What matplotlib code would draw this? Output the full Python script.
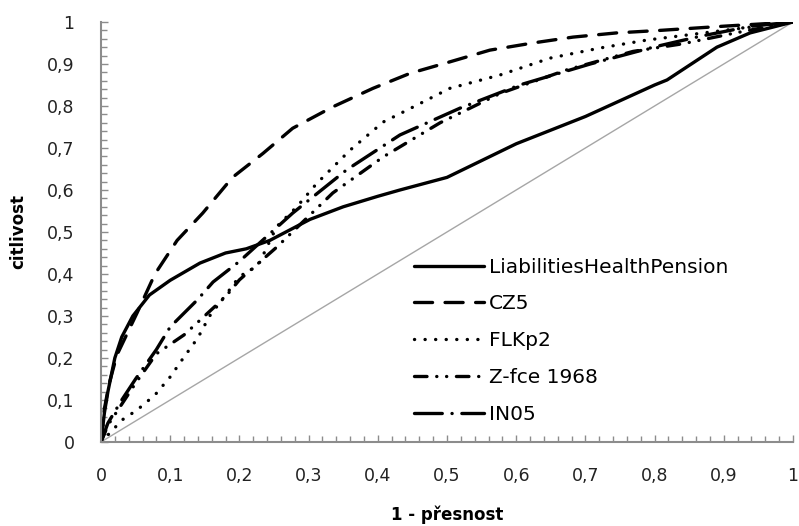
import numpy as np
import matplotlib
matplotlib.use("Agg")
import matplotlib.pyplot as plt
from matplotlib.ticker import FuncFormatter, MultipleLocator

plt.rcParams['font.family'] = ['DejaVu Sans']
plt.rcParams['lines.scale_dashes'] = False

# ROC curves (x = 1 - presnost, y = citlivost)
lhp_x = [0, 0.005, 0.01, 0.02, 0.03, 0.046, 0.07, 0.1, 0.143, 0.18, 0.21, 0.244, 0.302, 0.35, 0.4, 0.432,
         0.5, 0.6, 0.7, 0.72, 0.8, 0.818, 0.89, 0.938, 1.0]
lhp_y = [0, 0.07, 0.12, 0.2, 0.25, 0.3, 0.35, 0.385, 0.426, 0.45, 0.46, 0.48, 0.53, 0.56, 0.585, 0.6,
         0.63, 0.71, 0.775, 0.79, 0.85, 0.862, 0.94, 0.974, 1.0]

cz5_x = [0, 0.005, 0.012, 0.023, 0.052, 0.078, 0.11, 0.147, 0.19, 0.234, 0.277, 0.335, 0.393, 0.447,
         0.504, 0.562, 0.624, 0.682, 0.745, 0.808, 0.9, 1.0]
cz5_y = [0, 0.08, 0.14, 0.207, 0.307, 0.4, 0.48, 0.545, 0.63, 0.687, 0.747, 0.798, 0.842, 0.878,
         0.905, 0.933, 0.95, 0.964, 0.974, 0.98, 0.99, 1.0]

flk_x = [0, 0.015, 0.03, 0.052, 0.078, 0.1, 0.119, 0.14, 0.157, 0.182, 0.2, 0.227, 0.254, 0.283, 0.312,
         0.36, 0.408, 0.442, 0.504, 0.577, 0.649, 0.721, 0.789, 0.9, 1.0]
flk_y = [0, 0.025, 0.052, 0.076, 0.112, 0.155, 0.2, 0.248, 0.3, 0.354, 0.394, 0.42, 0.513, 0.56, 0.616,
         0.695, 0.762, 0.79, 0.842, 0.874, 0.914, 0.938, 0.957, 0.98, 1.0]

zfce_x = [0, 0.01, 0.03, 0.05, 0.08, 0.12, 0.18, 0.2, 0.254, 0.335, 0.408, 0.49, 0.577, 0.673, 0.769,
          0.84, 0.92, 1.0]
zfce_y = [0, 0.04, 0.09, 0.14, 0.21, 0.255, 0.346, 0.386, 0.464, 0.593, 0.679, 0.76, 0.83, 0.886, 0.93,
          0.948, 0.975, 1.0]

in05_x = [0, 0.01, 0.03, 0.05, 0.08, 0.1, 0.139, 0.162, 0.2, 0.24, 0.277, 0.355, 0.432, 0.519, 0.605,
          0.707, 0.798, 0.866, 0.94, 1.0]
in05_y = [0, 0.045, 0.1, 0.15, 0.22, 0.274, 0.338, 0.381, 0.43, 0.49, 0.545, 0.648, 0.731, 0.795, 0.85,
          0.9, 0.94, 0.966, 0.99, 1.0]

labels = ['LiabilitiesHealthPension', 'CZ5', 'FLKp2', 'Z-fce 1968', 'IN05']

fig = plt.figure(figsize=(7.99, 5.26), dpi=100)
ax = fig.add_axes([0.1264, 0.1597, 0.8661, 0.7985])

lw = 2.4
ax.plot([0, 1], [0, 1], color='#a6a6a6', lw=1.0)
ax.plot(lhp_x, lhp_y, color='black', lw=lw, solid_capstyle='round', label=labels[0])
ax.plot(cz5_x, cz5_y, color='black', lw=lw, dashes=(13, 9), dash_capstyle='round', label=labels[1])
ax.plot(flk_x, flk_y, color='black', lw=lw, dashes=(0.1, 7.5), dash_capstyle='round', label=labels[2])
ax.plot(zfce_x, zfce_y, color='black', lw=lw, dashes=(9, 7, 0.1, 7, 0.1, 7), dash_capstyle='round',
        label=labels[3])
ax.plot(in05_x, in05_y, color='black', lw=lw, dashes=(20, 7, 0.1, 7), dash_capstyle='round',
        label=labels[4])

ax.set_xlim(0, 1)
ax.set_ylim(0, 1)
ax.xaxis.set_major_locator(MultipleLocator(0.1))
ax.yaxis.set_major_locator(MultipleLocator(0.1))
ax.xaxis.set_minor_locator(MultipleLocator(0.02))
ax.yaxis.set_minor_locator(MultipleLocator(0.02))
fmt = FuncFormatter(lambda v, p: ('%g' % round(v, 1)).replace('.', ','))
ax.xaxis.set_major_formatter(fmt)
ax.yaxis.set_major_formatter(fmt)

for s in ['top', 'right']:
    ax.spines[s].set_visible(False)
for s in ['left', 'bottom']:
    ax.spines[s].set_color('#8c8c8c')
    ax.spines[s].set_linewidth(1.5)

ax.tick_params(which='both', direction='in', color='#8c8c8c', width=1)
ax.tick_params(which='major', length=5, labelsize=12.5, labelcolor='#222222')
ax.tick_params(which='minor', length=4)
ax.tick_params(axis='x', which='major', pad=18)
ax.tick_params(axis='y', which='major', pad=19)

ax.set_xlabel('1 - přesnost', fontsize=12, fontweight='bold', labelpad=15)
ax.set_ylabel('citlivost', fontsize=12, fontweight='bold', labelpad=14)

leg = ax.legend(loc='upper left', bbox_to_anchor=(0.44, 0.458), frameon=False, fontsize=14.5,
                handlelength=3.5, handletextpad=0.25, labelspacing=0.88, borderaxespad=0)

fig.savefig('out.png', dpi=100)
